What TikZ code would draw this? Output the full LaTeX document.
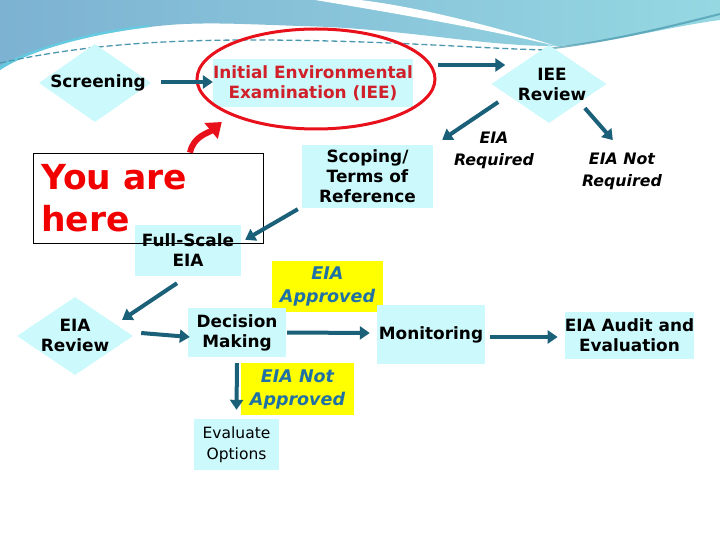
\documentclass[tikz,border=0pt]{standalone}
\usepackage{fontspec}
\setmainfont{DejaVu Sans}
\usetikzlibrary{shapes.geometric,arrows.meta,calc}
\definecolor{boxc}{HTML}{CCF9FC}
\definecolor{arrowc}{HTML}{1B6079}
\definecolor{redc}{HTML}{E8101A}
\definecolor{redtxt}{HTML}{D0202A}
\definecolor{youred}{HTML}{F20000}
\definecolor{bluetxt}{HTML}{1E70A6}
\definecolor{yell}{HTML}{FFFF00}
\definecolor{tealA}{HTML}{7DB2D2}
\definecolor{tealB}{HTML}{95D8E2}
\definecolor{cyanglow}{HTML}{5AD4E6}
\definecolor{dashc}{HTML}{4A98AE}
\begin{document}
\begin{tikzpicture}[x=1pt,y=-1pt,
  boxn/.style={fill=boxc, inner sep=0pt, align=center, font=\bfseries\fontsize{16.9}{20}\selectfont},
  diam/.style={diamond, fill=boxc, inner sep=0pt},
  txt/.style={inner sep=0pt, align=center, font=\bfseries\fontsize{16.9}{20}\selectfont},
  lab/.style={inner sep=0pt, align=center, font=\bfseries\itshape\fontsize{15.8}{22}\selectfont},
  ylab/.style={fill=yell, inner sep=0pt, align=center, text=bluetxt, font=\bfseries\itshape\fontsize{17.5}{23}\selectfont},
  arr/.style={draw=arrowc, line width=4pt, -{Triangle[length=10pt,width=13pt]}},
  youtxt/.style={inner sep=0pt, anchor=base west, text=youred, font=\bfseries\fontsize{34.5}{42}\selectfont}
]
\useasboundingbox (0,0) rectangle (720,540);
\fill[white] (0,0) rectangle (720,540);
% top wave decoration
\shade[left color=tealA, right color=tealB]
  (0,0) -- (720,0) -- (720,20)
  .. controls (660,28) and (600,46) .. (552,46)
  .. controls (480,46) and (400,28) .. (300,26)
  .. controls (240,24) and (195,21) .. (150,27)
  .. controls (90,34) and (30,50) .. (0,70) -- cycle;
\begin{scope}
  \clip (0,0) -- (720,0) -- (720,20)
  .. controls (660,28) and (600,46) .. (552,46)
  .. controls (480,46) and (400,28) .. (300,26)
  .. controls (240,24) and (195,21) .. (150,27)
  .. controls (90,34) and (30,50) .. (0,70) -- cycle;
  \draw[cyanglow, line width=14pt, opacity=.7] (0,74) .. controls (30,56) and (90,38) .. (150,32);
\end{scope}
\fill[white] (315,0) .. controls (400,14) and (490,30) .. (556,46)
  .. controls (480,22) and (410,6) .. (360,0) -- cycle;
\draw[dashc, line width=1.3pt, dash pattern=on 6pt off 3pt]
  (0,63) .. controls (60,50) and (130,40) .. (250,40) .. controls (380,40) and (470,48) .. (545,50);
\draw[dashc, line width=2pt, opacity=.7] (545,49) .. controls (610,42) and (680,24) .. (720,14);

% nodes
\node[diam, minimum width=112pt, minimum height=78pt] (scr) at (95,83) {};
\node[txt] (scrT) at (98,83) {Screening};
\node[boxn, minimum width=190pt, minimum height=48pt, text=redtxt] (iee) at (313,83) {Initial Environmental\\Examination (IEE)};
\node[draw=redc, line width=3pt, ellipse, minimum width=238pt, minimum height=100pt, inner sep=0pt] (ell) at (316,79) {};
\node[diam, minimum width=115pt, minimum height=78pt] (ieer) at (549,84) {};
\node[txt] (ieerT) at (552,84) {IEE\\Review};
\node[lab] (req) at (494,150) {EIA\\Required};
\node[lab] (nreq) at (622,171) {EIA Not\\Required};
\node[boxn, minimum width=131pt, minimum height=63pt] (scop) at (367.5,176.5) {Scoping/\\Terms of\\Reference};
\node[boxn, minimum width=106pt, minimum height=51pt] (fse) at (188,250.5) {Full-Scale\\EIA};
\node[draw=black, line width=0.8pt, minimum width=230pt, minimum height=90pt, inner sep=0pt] (you) at (148,198) {};
\node[youtxt] (you1) at (41,190) {You are};
\node[youtxt] (you2) at (41,232) {here};
\node[ylab, minimum width=111pt, minimum height=51pt] (app) at (327.5,286.5) {EIA\\Approved};
\node[diam, minimum width=116pt, minimum height=78pt] (eiar) at (75,336) {};
\node[txt] (eiarT) at (75,335) {EIA\\Review};
\node[boxn, minimum width=98pt, minimum height=49pt] (dec) at (237,332.5) {Decision\\Making};
\node[boxn, minimum width=108pt, minimum height=59pt] (mon) at (431,334.5) {Monitoring};
\node[boxn, minimum width=125pt, minimum height=47pt] (aud) at (629.5,335.5) {EIA Audit and\\Evaluation};
\node[ylab, minimum width=113pt, minimum height=52pt] (napp) at (297.5,389) {EIA Not\\Approved};
\node[boxn, minimum width=85pt, minimum height=51pt, font=\fontsize{15.5}{21}\selectfont] (eval) at (236.5,444.5) {Evaluate\\Options};

% connectors
\draw[arr] ([xshift=10pt,yshift=1pt]scr.east) -- ([yshift=1pt]iee.west);
\draw[arr] ([xshift=1pt,yshift=14pt]ell.east) -- ([xshift=14pt,yshift=19pt]ieer.west);
\draw[arr] ([xshift=-22pt,yshift=1.5pt]ieer.south west) -- ([xshift=9pt,yshift=5pt]scop.north east);
\draw[arr] ([xshift=7pt,yshift=-4.5pt]ieer.south east) -- ([xshift=35pt,yshift=-36.5pt]ieer.south east);
\draw[arr] ([xshift=-4pt,yshift=-1pt]scop.south west) -- ([xshift=4pt,yshift=-15pt]fse.north east);
\draw[redc, line width=6pt, -{Triangle[length=14pt,width=20pt]}]
  ([xshift=42pt]you.north) to[out=78,in=220] ([xshift=-9pt,yshift=-6.6pt]ell.south west);
\draw[arr] ([xshift=-11pt,yshift=-7pt]fse.south) -- ([xshift=18pt,yshift=-3.5pt]eiar.north east);
\draw[arr] ([xshift=8pt,yshift=3pt]eiar.east) -- ([xshift=2pt,yshift=-4.5pt]dec.west);
\draw[arr] ([xshift=1pt]dec.east) -- ([xshift=-7pt,yshift=1.5pt]mon.west);
\draw[arr] ([xshift=5pt,yshift=-2.5pt]mon.east) -- ([xshift=-7pt,yshift=-1.5pt]aud.west);
\draw[arr] ([yshift=-6pt]dec.south) -- ([yshift=9pt]eval.north);
\end{tikzpicture}
\end{document}
